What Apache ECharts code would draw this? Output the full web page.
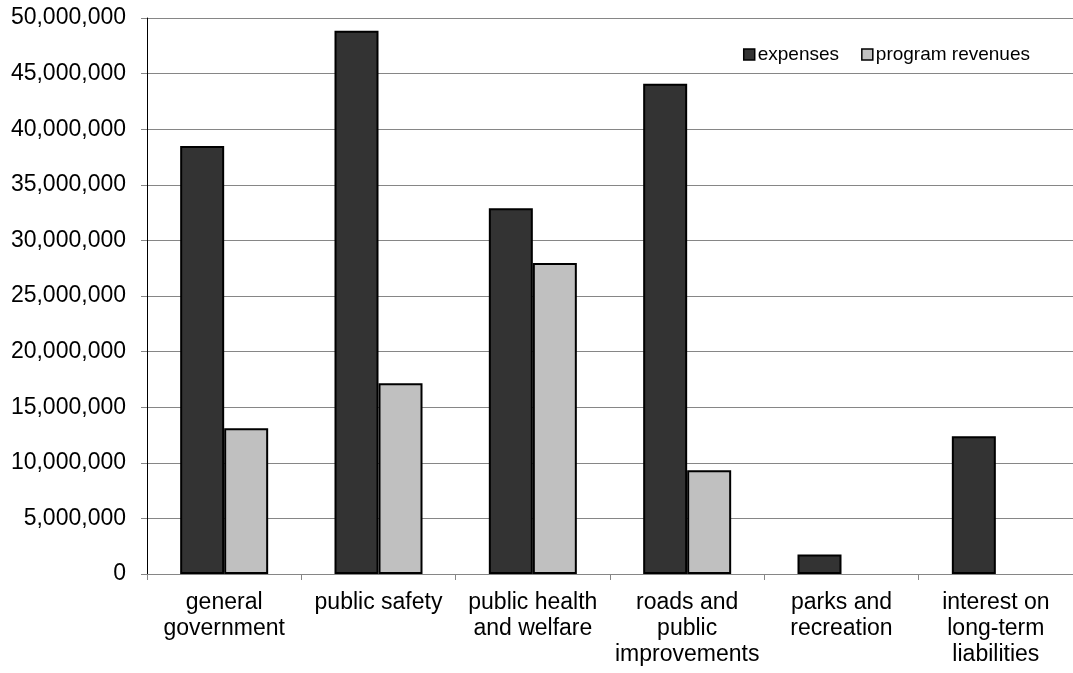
<!DOCTYPE html>
<html>
<head>
<meta charset="utf-8">
<script src="https://cdn.jsdelivr.net/npm/echarts@6/dist/echarts.min.js"></script>
<style>
  html, body { margin: 0; padding: 0; background: #ffffff; }
  #chart { width: 1073px; height: 673px; }
</style>
</head>
<body>
<div id="chart"></div>
<script>
// Program expenses and revenues by function
const categories = [
  'general\ngovernment',
  'public safety',
  'public health\nand welfare',
  'roads and\npublic\nimprovements',
  'parks and\nrecreation',
  'interest on\nlong-term\nliabilities'
];
const expenses = [38500000, 48850000, 32900000, 44080000, 1760000, 12380000];
const programRevenues = [13100000, 17160000, 27960000, 9320000, 0, 0];
const yTicks = { min: 0, max: 50000000, interval: 5000000 };

const FONT = '"Liberation Sans", Arial, sans-serif';

function fmt(v) {
  return String(v).replace(/\B(?=(\d{3})+(?!\d))/g, ',');
}

// zero-height bars get no outline so they don't show as a stray line
function toItems(values) {
  return values.map(v => v === 0 ? { value: v, itemStyle: { borderWidth: 0, opacity: 0 } } : v);
}

const chart = echarts.init(document.getElementById('chart'), null, { renderer: 'canvas' });
chart.setOption({
  animation: false,
  backgroundColor: '#ffffff',
  textStyle: { fontFamily: FONT },
  grid: { left: 147, right: 0, top: 18, bottom: 99, containLabel: false },
  legend: {
    right: 38,
    top: 40,
    itemWidth: 11,
    itemHeight: 11,
    itemGap: 22,
    icon: 'rect',
    textStyle: { fontFamily: FONT, fontSize: 19, color: '#000', padding: [0, 0, 0, -2] },
    itemStyle: { borderColor: '#000', borderWidth: 1.5 },
    data: ['expenses', 'program revenues']
  },
  xAxis: {
    type: 'category',
    data: categories,
    boundaryGap: true,
    axisLine: { lineStyle: { color: '#868686', width: 1 } },
    axisTick: { show: true, length: 6, lineStyle: { color: '#868686' } },
    axisLabel: {
      interval: 0,
      margin: 16,
      fontFamily: FONT,
      fontSize: 23,
      color: '#000',
      lineHeight: 26,
      align: 'center'
    }
  },
  yAxis: {
    type: 'value',
    min: yTicks.min,
    max: yTicks.max,
    interval: yTicks.interval,
    axisLine: { show: true, lineStyle: { color: '#000', width: 1 } },
    axisTick: { show: true, length: 6, lineStyle: { color: '#868686' } },
    splitLine: { show: true, lineStyle: { color: '#868686', width: 1 } },
    axisLabel: {
      margin: 21,
      fontFamily: FONT,
      fontSize: 23,
      color: '#000',
      formatter: fmt
    }
  },
  series: [
    {
      name: 'expenses',
      type: 'bar',
      data: toItems(expenses),
      barWidth: 44,
      barGap: '0%',
      itemStyle: { color: '#333333', borderColor: '#000', borderWidth: 2 }
    },
    {
      name: 'program revenues',
      type: 'bar',
      data: toItems(programRevenues),
      barWidth: 44,
      barGap: '0%',
      itemStyle: { color: '#c0c0c0', borderColor: '#000', borderWidth: 2 }
    }
  ]
});
</script>
</body>
</html>
